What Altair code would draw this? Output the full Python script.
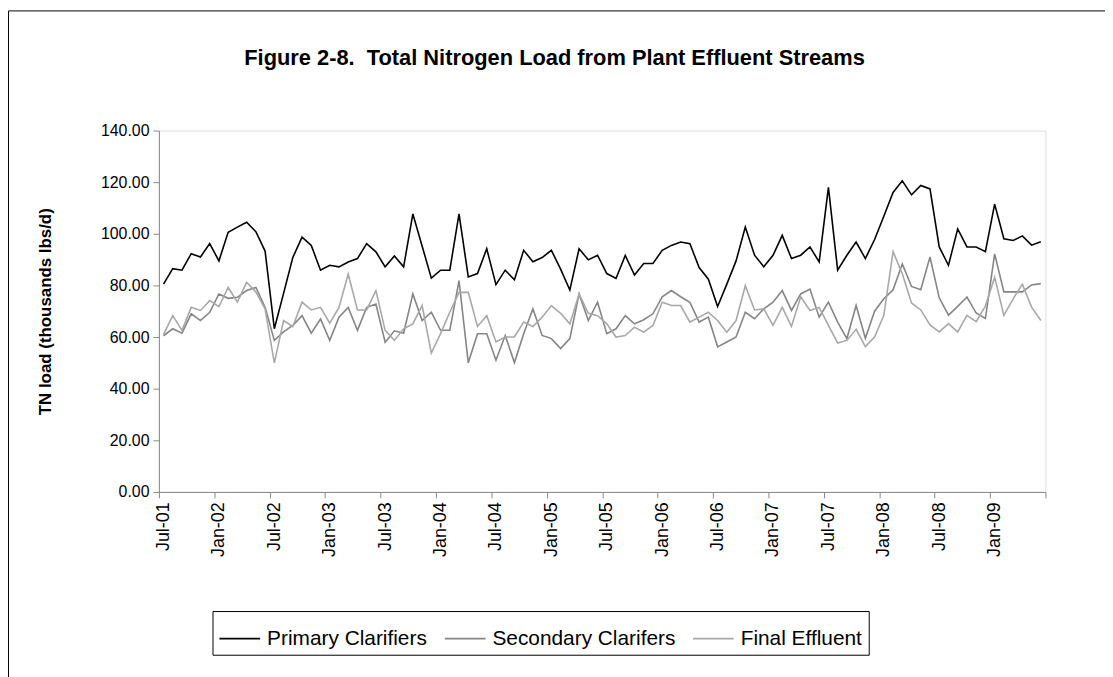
import json
import altair as alt
import pandas as pd

# ---- data (monthly, Jul-01 .. Jun-09) ----
tick_labels = ["Jul-01", "Jan-02", "Jul-02", "Jan-03", "Jul-03", "Jan-04", "Jul-04", "Jan-05",
               "Jul-05", "Jan-06", "Jul-06", "Jan-07", "Jul-07", "Jan-08", "Jul-08", "Jan-09"]

primary = [80.5, 86.5, 85.9, 92.3, 91.0, 96.2, 89.5, 100.6, 102.6, 104.5, 100.8, 93.3,
           63.2, 76.9, 90.8, 98.7, 95.5, 85.9, 87.8, 87.2, 89.1, 90.4, 96.2, 93.0,
           87.2, 91.4, 87.2, 107.7, 95.3, 82.8, 85.9, 85.9, 107.7, 83.3, 84.6, 94.2,
           80.3, 85.9, 82.2, 93.6, 89.2, 90.8, 93.6, 86.3, 78.2, 94.2, 89.9, 91.7,
           84.6, 82.7, 91.6, 84.0, 88.5, 88.5, 93.6, 95.5, 96.8, 96.2, 86.9, 82.4,
           71.8, 80.5, 89.5, 102.6, 91.7, 87.2, 91.7, 99.4, 90.4, 91.7, 94.9, 89.1,
           118.0, 85.9, 91.7, 96.8, 90.4, 97.8, 106.8, 116.0, 120.5, 115.1, 118.7, 117.4,
           94.9, 87.8, 101.9, 94.9, 94.9, 93.1, 111.5, 98.1, 97.4, 99.2, 95.6, 96.9]

secondary = [60.5, 63.2, 61.5, 69.0, 66.4, 69.6, 76.7, 75.0, 75.4, 78.0, 79.2, 71.5,
             58.7, 62.0, 64.5, 68.3, 61.5, 67.0, 58.7, 67.7, 71.5, 62.6, 71.5, 72.8,
             58.0, 62.4, 61.5, 76.7, 66.4, 69.6, 62.6, 62.6, 81.8, 50.0, 61.3, 61.3,
             51.0, 60.6, 50.1, 61.3, 70.9, 60.6, 59.4, 55.5, 59.4, 76.7, 66.4, 73.5,
             61.3, 63.2, 68.3, 65.1, 66.7, 69.0, 75.6, 78.0, 75.6, 73.5, 65.8, 67.7,
             56.2, 58.1, 60.0, 69.6, 67.1, 70.9, 73.5, 78.0, 70.3, 76.7, 78.6, 67.7,
             73.5, 65.8, 59.4, 72.2, 59.5, 70.0, 74.8, 78.3, 88.3, 79.6, 78.3, 91.0,
             75.2, 68.5, 71.9, 75.5, 69.3, 67.2, 92.2, 77.5, 77.5, 77.5, 80.2, 80.7]

final = [61.0, 68.3, 62.6, 71.5, 70.3, 74.1, 71.8, 79.2, 73.5, 81.2, 77.5, 70.9,
         50.0, 66.4, 64.1, 73.5, 70.5, 71.5, 65.4, 71.5, 84.4, 70.5, 70.5, 78.0,
         62.6, 58.7, 63.2, 65.1, 72.2, 53.8, 61.3, 69.6, 77.3, 77.3, 64.1, 68.3,
         58.1, 60.0, 60.0, 65.8, 64.1, 67.7, 72.2, 69.2, 65.1, 76.7, 69.2, 68.3,
         65.1, 60.0, 60.6, 63.8, 61.9, 64.5, 73.5, 72.2, 72.2, 65.8, 67.7, 69.6,
         66.4, 61.9, 66.4, 79.9, 70.5, 70.9, 64.5, 71.5, 64.1, 75.6, 70.3, 71.5,
         64.5, 57.7, 58.7, 63.0, 56.3, 60.0, 68.4, 93.1, 84.5, 73.2, 70.5, 64.7,
         62.0, 65.2, 62.0, 68.4, 66.0, 72.0, 83.2, 68.4, 74.8, 80.5, 71.6, 66.4]

series_names = ["Primary Clarifiers", "Secondary Clarifers", "Final Effluent"]
series_colors = ["#000000", "#858585", "#a8a8a8"]
y_ticks = [0, 20, 40, 60, 80, 100, 120, 140]

rows = []
for name, vals in zip(series_names, [primary, secondary, final]):
    for i, v in enumerate(vals):
        rows.append({"month": i, "load": v, "series": name})
df = pd.DataFrame(rows)

n = len(primary)
x_tick_vals = [k - 0.5 for k in range(0, n + 1, 6)]
label_expr = json.dumps(tick_labels) + "[round((datum.value + 0.5) / 6)] || ''"

FONT = "Liberation Sans"

lines = alt.Chart(df).mark_line(strokeWidth=1.6).encode(
    x=alt.X("month:Q",
            scale=alt.Scale(domain=[-0.5, n - 0.5], nice=False, zero=False),
            axis=alt.Axis(values=x_tick_vals, labelExpr=label_expr, labelAngle=270,
                          title=None, grid=False, tickSize=6, labelOffset=4.6,
                          labelPadding=4, labelFontSize=18)),
    y=alt.Y("load:Q",
            scale=alt.Scale(domain=[0, 140], nice=False),
            axis=alt.Axis(values=y_ticks, format=".2f", grid=False, tickSize=6,
                          labelPadding=4, labelFontSize=16,
                          title="TN load (thousands lbs/d)", titleFontSize=17,
                          titleFontWeight="bold", titleAngle=270, titleX=-114,
                          titleY=182, titleAlign="center", titleBaseline="middle")),
    color=alt.Color("series:N",
                    scale=alt.Scale(domain=series_names, range=series_colors),
                    legend=alt.Legend(title=None, orient="none", legendX=54, legendY=484,
                                      direction="horizontal", symbolType="stroke",
                                      symbolSize=1681, symbolStrokeWidth=1.6,
                                      labelFontSize=21, labelOffset=6, columnPadding=13,
                                      labelLimit=400, padding=6, strokeColor="black",
                                      fillColor="white", labelColor="black", labelFont=FONT)),
)

frame_src = pd.DataFrame({"k": [0]})
frame_top = alt.Chart(frame_src).mark_rule(color="black", strokeWidth=1).encode(
    x=alt.value(-151.5), x2=alt.value(960), y=alt.value(-120.5))
frame_left = alt.Chart(frame_src).mark_rule(color="black", strokeWidth=1).encode(
    x=alt.value(-151.5), y=alt.value(-120.5), y2=alt.value(560))

chart = alt.layer(lines, frame_top, frame_left).properties(
    width=893, height=364,
    title=alt.TitleParams(text="Figure 2-8.\u00a0 Total Nitrogen Load from Plant Effluent Streams",
                          fontSize=22, fontWeight="bold", font=FONT, anchor="middle",
                          dx=-48, offset=-60, color="black"),
    autosize=alt.AutoSizeParams(type="none"),
    padding={"left": 152, "top": 121, "right": 60, "bottom": 184},
).configure_view(stroke="transparent", strokeWidth=0).configure_axis(
    domainColor="black", tickColor="black", labelColor="black", titleColor="black",
    labelFont=FONT, titleFont=FONT, domainWidth=1, tickWidth=1
).configure(background="white")

chart.save("out.html", embed_options={"renderer": "svg", "actions": False})
